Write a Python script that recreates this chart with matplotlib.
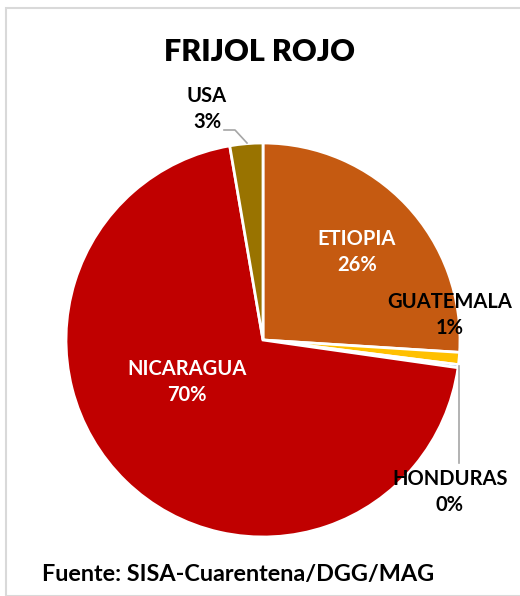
import matplotlib
matplotlib.use("Agg")
import matplotlib.pyplot as plt
from matplotlib.patches import Rectangle

categories = ["ETIOPIA", "GUATEMALA", "HONDURAS", "NICARAGUA", "USA"]
values = [26.0, 1.0, 0.25, 70.05, 2.7]
pct_labels = ["26%", "1%", "0%", "70%", "3%"]
colors = ["#C55A11", "#FFC000", "#4472C4", "#C00000", "#997300"]

W, H = 520, 596
CX, CY, R = 263, 340, 197

def d(px, py):
    return ((px - CX) / R, (CY - py) / R)

plt.rcParams['font.family'] = ['Lato', 'DejaVu Sans']
fig = plt.figure(figsize=(W / 100, H / 100), dpi=100)
ax = fig.add_axes([0, 0, 1, 1])
ax.pie(values, colors=colors, startangle=90, counterclock=False, radius=1,
       wedgeprops=dict(edgecolor="white", linewidth=2))
ax.set_xlim(d(0, 0)[0], d(W, 0)[0])
ax.set_ylim(d(0, H)[1], d(0, 0)[1])
ax.set_aspect('auto')
ax.axis('off')

# frame
fig.patches.append(Rectangle((6 / W, 0), 1, 1 - 8 / H, transform=fig.transFigure,
                             fill=False, edgecolor="#D9D9D9", linewidth=1.5))

fig.text(0.5, 1 - 52 / H, "FRIJOL ROJO", ha="center", va="center",
         fontsize=22, fontweight="heavy")

label_pos = {
    "ETIOPIA": (357, 252, "white"),
    "GUATEMALA": (450, 315, "black"),
    "HONDURAS": (450, 492, "black"),
    "NICARAGUA": (187, 382, "white"),
    "USA": (207, 109, "black"),
}
for cat, pct in zip(categories, pct_labels):
    px, py, col = label_pos[cat]
    ax.text(*d(px, py), f"{cat}\n{pct}", ha="center", va="center", color=col,
            fontsize=14.5, fontweight="bold", linespacing=1.4)

# leader lines
xs, ys = zip(d(224, 130), d(235, 130), d(247, 143))
ax.plot(xs, ys, color="#A6A6A6", lw=1.2)
xs, ys = zip(d(459, 366), d(459, 463))
ax.plot(xs, ys, color="#A6A6A6", lw=1.2)

fig.text(42 / W, 1 - 575 / H, "Fuente: SISA-Cuarentena/DGG/MAG", ha="left",
         va="center", fontsize=16.8, fontweight="bold")

fig.savefig("out.png", dpi=100)
